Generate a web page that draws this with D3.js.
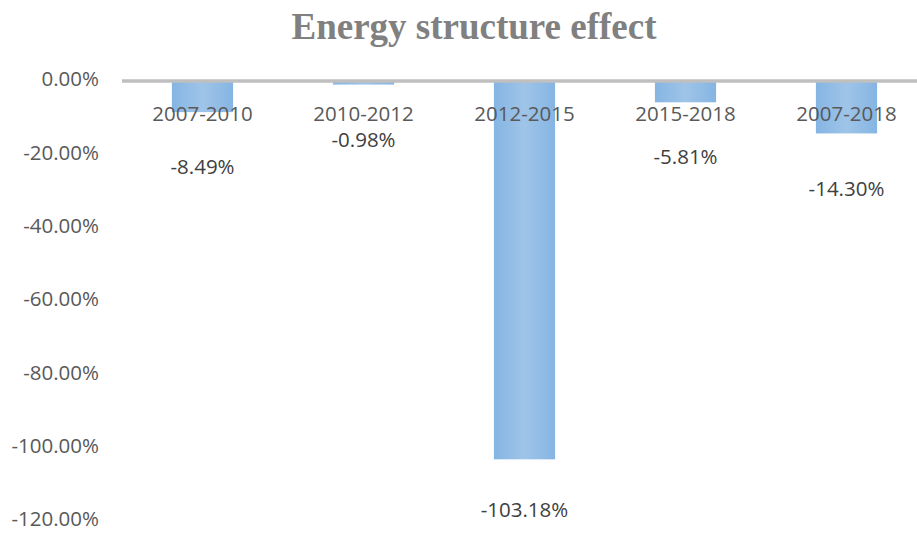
<!DOCTYPE html>
<html>
<head>
<meta charset="utf-8">
<script src="https://cdn.jsdelivr.net/npm/d3@7"></script>
<style>
  html, body { margin: 0; padding: 0; background: #fff; }
  svg { display: block; }
</style>
</head>
<body>
<svg id="chart" width="917" height="533"></svg>
<script>
// Decomposition periods and the energy structure effect for each (percent)
const periods = ["2007-2010", "2010-2012", "2012-2015", "2015-2018", "2007-2018"];
const effects = [-8.49, -0.98, -103.18, -5.81, -14.30];
const yTicks = [0, -20, -40, -60, -80, -100, -120];
const titleText = "Energy structure effect";

const svg = d3.select("#chart");
const W = 917, H = 533;

// percent label with a plain hyphen as the minus sign
const pct = d => d3.format(".2f")(d).replace("\u2212", "-") + "%";

const x = d3.scaleBand()
  .domain(periods)
  .range([122, 927])
  .paddingInner(0.62)
  .paddingOuter(0.31);

const y = d3.scaleLinear()
  .domain([0, -120])
  .range([81, 521]);

// Bar fill: soft horizontal gradient, slightly darker at the edges
const defs = svg.append("defs");
const grad = defs.append("linearGradient")
  .attr("id", "barGrad")
  .attr("x1", "0%").attr("x2", "100%").attr("y1", "0%").attr("y2", "0%");
grad.append("stop").attr("offset", "0%").attr("stop-color", "#85b5e3");
grad.append("stop").attr("offset", "50%").attr("stop-color", "#9fc4e8");
grad.append("stop").attr("offset", "100%").attr("stop-color", "#85b5e3");

// Title
svg.append("text")
  .attr("x", 474)
  .attr("y", 39)
  .attr("text-anchor", "middle")
  .attr("font-family", "'Liberation Serif', 'Times New Roman', serif")
  .attr("font-weight", "bold")
  .attr("font-size", 37)
  .attr("fill", "#808080")
  .text(titleText);

const labelFont = "'Open Sans', sans-serif";
const labelSize = 20.5;

// Y axis tick labels (no axis line)
const yAxis = d3.axisLeft(y)
  .tickValues(yTicks)
  .tickFormat(pct)
  .tickSize(0)
  .tickPadding(0);
const yG = svg.append("g")
  .attr("transform", "translate(99,0)")
  .call(yAxis);
yG.select(".domain").remove();
yG.selectAll("text")
  .attr("font-family", labelFont)
  .attr("font-size", labelSize)
  .attr("fill", "#595959")
  .attr("dy", "0.24em");

// Bars
const data = periods.map((p, i) => ({ period: p, value: effects[i] }));
svg.append("g")
  .selectAll("rect")
  .data(data)
  .join("rect")
  .attr("x", d => x(d.period))
  .attr("y", y(0))
  .attr("width", x.bandwidth())
  .attr("height", d => y(d.value) - y(0))
  .attr("fill", "url(#barGrad)");

// Zero baseline
svg.append("line")
  .attr("x1", 122).attr("x2", W)
  .attr("y1", y(0)).attr("y2", y(0))
  .attr("stroke", "#bfbfbf")
  .attr("stroke-width", 3.5);

// Category labels just under the baseline
const xAxis = d3.axisBottom(x).tickSize(0).tickPadding(0);
const xG = svg.append("g")
  .attr("transform", `translate(0,${y(0)})`)
  .call(xAxis);
xG.select(".domain").remove();
xG.selectAll("text")
  .attr("font-family", labelFont)
  .attr("font-size", labelSize)
  .attr("fill", "#595959")
  .attr("dy", "1.95em");

// Value labels beneath each bar
svg.append("g")
  .selectAll("text")
  .data(data)
  .join("text")
  .attr("x", d => x(d.period) + x.bandwidth() / 2)
  .attr("y", d => y(d.value) + (d.value < -50 ? 50 : 55))
  .attr("dy", "0.35em")
  .attr("text-anchor", "middle")
  .attr("font-family", labelFont)
  .attr("font-size", labelSize)
  .attr("fill", "#404040")
  .text(d => pct(d.value));
</script>
</body>
</html>
